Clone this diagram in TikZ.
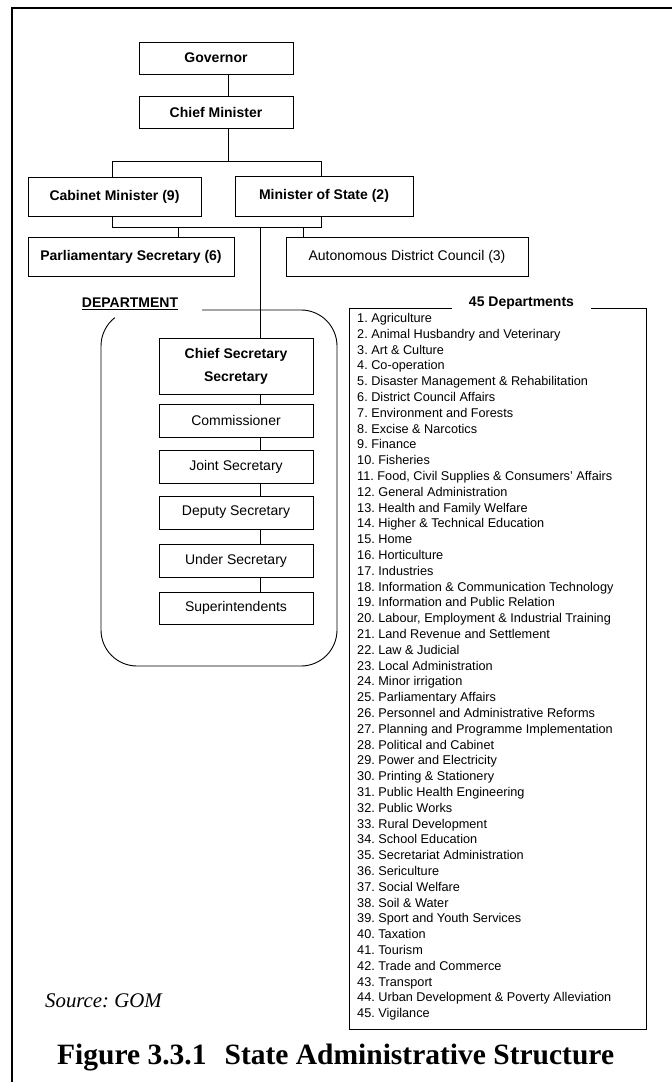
\documentclass[tikz,border=0pt]{standalone}
\usepackage{fontspec}
\setmainfont{Liberation Serif}
\setsansfont{Liberation Sans}
\frenchspacing
\begin{document}
\begin{tikzpicture}[x=1pt,y=1pt,
  conn/.style={line width=0.9pt},
  box/.style={draw, line width=0.9pt, inner sep=0pt, align=center,
    font=\sffamily\fontsize{14}{16}\selectfont},
  bbox/.style={box, font=\sffamily\bfseries\fontsize{14}{23}\selectfont},
  rankbox/.style={box, minimum width=154pt, minimum height=33pt},
  item/.style={anchor=base west, inner sep=0pt,
    font=\sffamily\fontsize{12.7}{14}\selectfont},
  heading/.style={inner sep=0pt, font=\sffamily\bfseries\fontsize{14}{16}\selectfont},
  frame/.style={line width=2.3pt}
]
\fill[white] (0,0) rectangle (672,-1082);
\useasboundingbox (0,0) rectangle (672,-1082);

% outer frame (left and top rules)
\draw[frame] (12,-1082) -- (12,-8) -- (672,-8);

% upper hierarchy
\node[bbox, minimum width=154pt, minimum height=32pt] (gov) at (216,-58) {Governor};
\node[bbox, minimum width=154pt, minimum height=32pt] (cm) at (216,-112) {Chief Minister};
\node[bbox, minimum width=173pt, minimum height=39pt] (cab) at (114.5,-196.5) {Cabinet Minister (9)};
\node[bbox, minimum width=178pt, minimum height=40pt] (mos) at (324,-196) {Minister of State (2)};
\node[bbox, minimum width=206pt, minimum height=39pt] (parl) at (131,-256.5) {Parliamentary Secretary (6)};
\node[box, minimum width=242pt, minimum height=39pt] (adc) at (407,-256.5) {Autonomous District Council (3)};

% department ranks
\node[bbox, minimum width=154pt, minimum height=56pt] (csec) at (236,-366) {Chief Secretary\\Secretary};
\node[rankbox] (comm) at (236,-420.5) {Commissioner};
\node[rankbox] (jsec) at (236,-466.5) {Joint Secretary};
\node[rankbox] (dsec) at (236,-512.5) {Deputy Secretary};
\node[rankbox] (usec) at (236,-560.5) {Under Secretary};
\node[rankbox, minimum height=32pt] (supt) at (236,-608) {Superintendents};

% junction points
\coordinate (sp) at (228,0);
\coordinate (busL) at (112,-161);
\coordinate (busR) at (321,-161);
\coordinate (lowL) at (112,-227);
\coordinate (lowR) at (321,-227);
\coordinate (pd) at (178,-227);
\coordinate (ad) at (303,-227);
\coordinate (dd) at (260,-227);

\draw[conn] (gov.south -| sp) -- (cm.north -| sp);
\draw[conn] (cm.south -| sp) -- (sp |- busL);
\draw[conn] (cab.north -| busL) -- (busL) -- (busR) -- (mos.north -| busR);
\draw[conn] (cab.south -| lowL) -- (lowL) -- (lowR) -- (mos.south -| lowR);
\draw[conn] (pd) -- (parl.north -| pd);
\draw[conn] (ad) -- (adc.north -| ad);
\draw[conn] (dd) -- (csec.north -| dd);
\foreach \a/\b in {csec/comm, comm/jsec, jsec/dsec, dsec/usec, usec/supt}
  \draw[conn] (\a.south -| dd) -- (\b.north -| dd);

% department enclosure
\node[heading] (dept) at (130,-304) {\underline{DEPARTMENT}};
\draw[conn, rounded corners=36pt] (202,-310) -- (337,-310) -- (337,-666) -- (101,-666) -- (101,-346);
\draw[conn] (101,-346) arc[start angle=180, end angle=128, radius=36pt];

% list of departments
\node[heading, inner xsep=17pt] (ltitle) at (521.5,-303) {45 Departments};
\coordinate (lbTL) at (349,-308);
\coordinate (lbBR) at (646,-1029);
\draw[conn] (ltitle.west |- lbTL) -- (lbTL) -- (lbTL |- lbBR) -- (lbBR) -- (lbBR |- lbTL) -- (ltitle.east |- lbTL);
\foreach \t [count=\i] in {Agriculture, Animal Husbandry and Veterinary, Art \& Culture,
  Co-operation, Disaster Management \& Rehabilitation, District Council Affairs,
  Environment and Forests, Excise \& Narcotics, Finance, Fisheries,
  {Food, Civil Supplies \& Consumers' Affairs}, General Administration,
  Health and Family Welfare, Higher \& Technical Education, Home, Horticulture,
  Industries, Information \& Communication Technology, Information and Public Relation,
  {Labour, Employment \& Industrial Training}, Land Revenue and Settlement,
  Law \& Judicial, Local Administration, Minor irrigation, Parliamentary Affairs,
  Personnel and Administrative Reforms, Planning and Programme Implementation,
  Political and Cabinet, Power and Electricity, Printing \& Stationery,
  Public Health Engineering, Public Works, Rural Development, School Education,
  Secretariat Administration, Sericulture, Social Welfare, Soil \& Water,
  Sport and Youth Services, Taxation, Tourism, Trade and Commerce, Transport,
  Urban Development \& Poverty Alleviation, Vigilance}
  \node[item] (d\i) at (357,{-322.5-(\i-1)*15.8}) {\i. \t};

% source and caption
\node[anchor=base west, inner sep=0pt, font=\itshape\fontsize{20.8}{22}\selectfont] (src) at (45,-1007) {Source: GOM};
\node[anchor=base west, inner sep=0pt, font=\bfseries\fontsize{29.5}{32}\selectfont] (cap) at (57,-1064) {Figure 3.3.1\hspace{18pt}State Administrative Structure};
\end{tikzpicture}
\end{document}
